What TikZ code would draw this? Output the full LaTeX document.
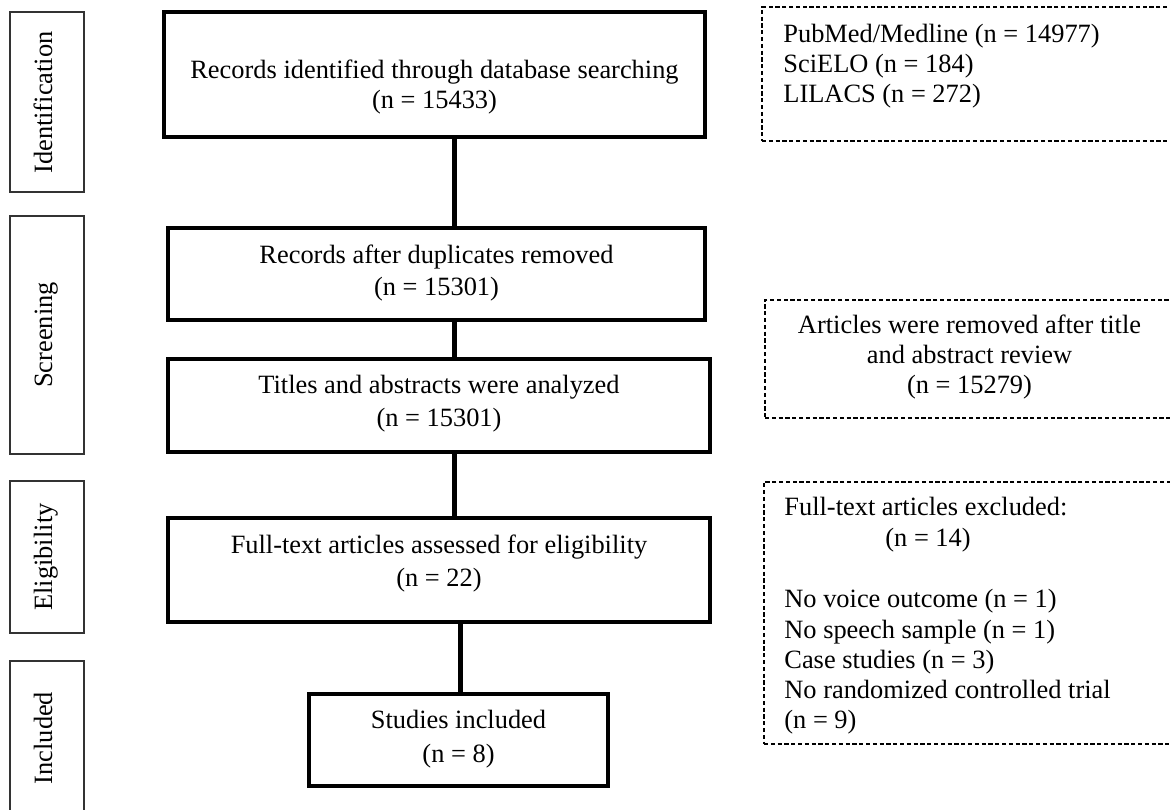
\documentclass[tikz,border=0pt]{standalone}
\usepackage{fontspec}
\setmainfont{Liberation Serif}
\usetikzlibrary{fit}
\begin{document}
\begin{tikzpicture}[x=0.5pt,y=-0.5pt,
  every node/.style={font=\fontsize{13.2}{15}\selectfont},
  mainbox/.style={draw=black,line width=2pt,inner sep=0pt},
  stagebox/.style={draw=black!80,line width=0.75pt,inner sep=0pt},
  dashbox/.style={draw=black,line width=0.6pt,dash pattern=on 2.1pt off 1.3pt,inner sep=0pt},
  conn/.style={draw=black,line width=2.5pt},
  txt/.style={anchor=base,inner sep=0pt},
  ltxt/.style={anchor=base west,inner sep=0pt},
  stagetxt/.style={anchor=base,rotate=90,inner sep=0pt}]
\useasboundingbox (0,0) rectangle (1170,809);
\clip (0,0) rectangle (1170,809);
\fill[white] (0,0) rectangle (1170,809);

% stage boxes
\node[stagebox,fit={(10,12) (84,192)}] (sI) {};
\node[stagebox,fit={(10,216) (84,454)}] (sS) {};
\node[stagebox,fit={(10,481) (84,633)}] (sE) {};
\node[stagebox,fit={(10,661) (84,830)}] (sN) {};
\node[stagetxt] (lI) at (52,102.5) {Identification};
\node[stagetxt] (lS) at (52,335) {Screening};
\node[stagetxt] (lE) at (52,557) {Eligibility};
\node[stagetxt] (lN) at (52,738) {Included};

% main boxes
\node[mainbox,fit={(164,12) (705,137)}] (b1) {};
\node[mainbox,fit={(168,228) (705,320)}] (b2) {};
\node[mainbox,fit={(168,359) (710,452)}] (b3) {};
\node[mainbox,fit={(168,518) (710,622)}] (b4) {};
\node[mainbox,fit={(309,694) (608,786)}] (b5) {};

\node[txt] (t1a) at (434.5,78) {Records identified through database searching};
\node[txt] (t1b) at (434.5,108) {(n = 15433)};
\node[txt] (t2a) at (436.5,263) {Records after duplicates removed};
\node[txt] (t2b) at (436.5,295) {(n = 15301)};
\node[txt] (t3a) at (439,393) {Titles and abstracts were analyzed};
\node[txt] (t3b) at (439,426) {(n = 15301)};
\node[txt] (t4a) at (439,553) {Full-text articles assessed for eligibility};
\node[txt] (t4b) at (439,586) {(n = 22)};
\node[txt] (t5a) at (458.5,728) {Studies included};
\node[txt] (t5b) at (458.5,762) {(n = 8)};

% connectors
\coordinate (cx) at (454,0);
\coordinate (cy) at (460,0);
\draw[conn] (b1.south -| cx) -- (b2.north -| cx);
\draw[conn] (b2.south -| cx) -- (b3.north -| cx);
\draw[conn] (b3.south -| cx) -- (b4.north -| cx);
\draw[conn] (b4.south -| cy) -- (b5.north -| cy);

% dashed side boxes
\node[dashbox,fit={(762,7) (1190,141)}] (dA) {};
\node[dashbox,fit={(765,300) (1190,418)}] (dB) {};
\node[dashbox,fit={(764,482) (1190,744)}] (dC) {};

\node[ltxt] (a1) at (783,42) {PubMed/Medline (n = 14977)};
\node[ltxt] (a2) at (783,72) {SciELO (n = 184)};
\node[ltxt] (a3) at (783,102) {LILACS (n = 272)};

\node[txt] (r1) at (969.5,333) {Articles were removed after title};
\node[txt] (r2) at (969.5,363) {and abstract review};
\node[txt] (r3) at (969.5,393) {(n = 15279)};

\node[ltxt] (e1) at (784,515) {Full-text articles excluded:};
\node[ltxt] (e2) at (885,546) {(n = 14)};
\node[ltxt] (e3) at (784,607) {No voice outcome (n = 1)};
\node[ltxt] (e4) at (784,638) {No speech sample (n = 1)};
\node[ltxt] (e5) at (784,668) {Case studies (n = 3)};
\node[ltxt] (e6) at (784,698) {No randomized controlled trial};
\node[ltxt] (e7) at (784,728) {(n = 9)};
\end{tikzpicture}
\end{document}
